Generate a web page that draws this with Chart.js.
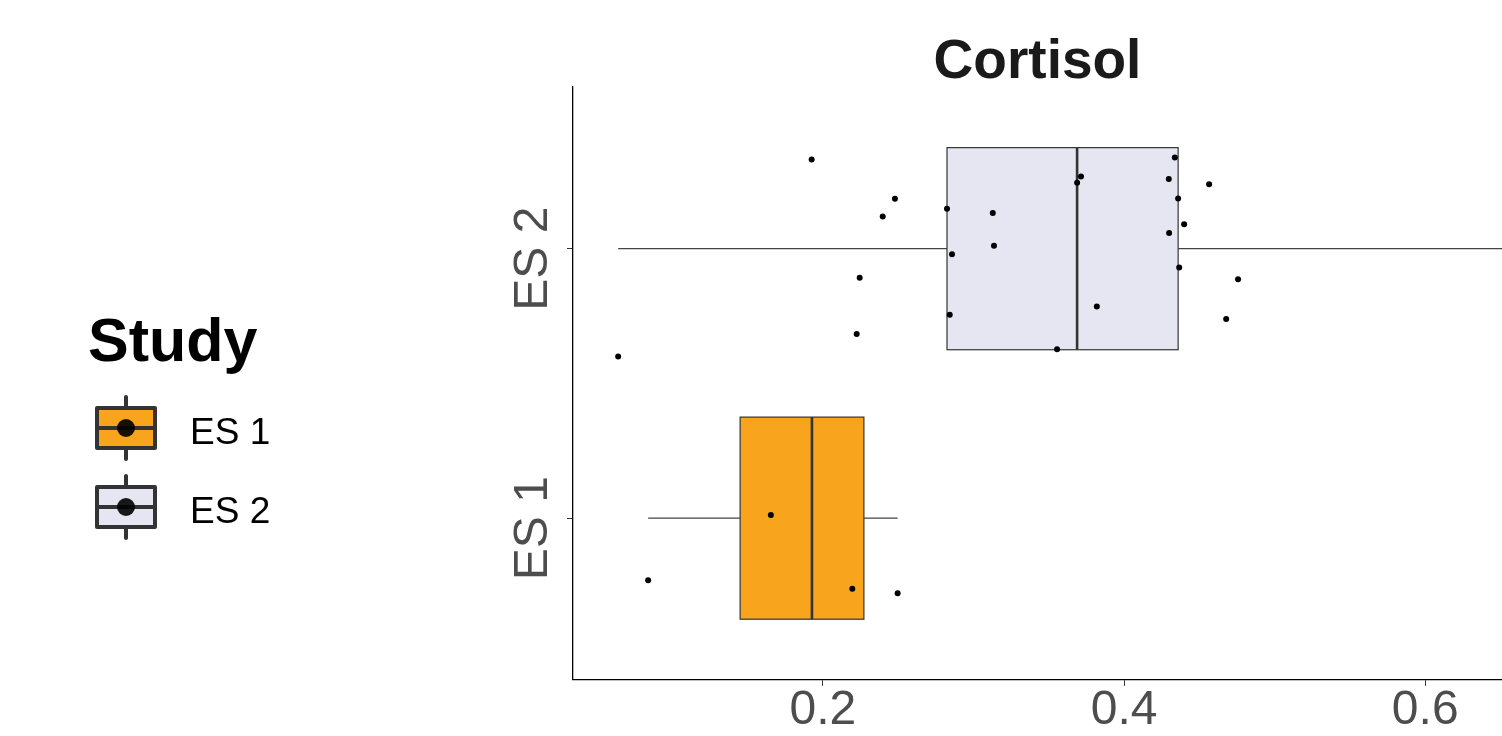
<!DOCTYPE html>
<html>
<head>
<meta charset="utf-8">
<script src="https://cdn.jsdelivr.net/npm/chart.js@4"></script>
<style>
  html, body { margin: 0; padding: 0; background: #fff; overflow: hidden; }
</style>
</head>
<body>
<canvas id="chart" width="1506" height="736"></canvas>
<script>
// study groups and their position on the y axis
const studies = ['ES 1', 'ES 2'];
const studyPos = [1, 2];
const boxColors = ['#F8A51D', '#E6E6F2'];

// box summaries
const whiskerLow = [0.0839, 0.064];
const q1 = [0.145, 0.2824];
const median = [0.1927, 0.3688];
const q3 = [0.2272, 0.4359];
const whiskerHigh = [0.2496, 0.70];

const xTicks = [0.2, 0.4, 0.6];

// jittered observations
const es1X = [0.1654, 0.0839, 0.2195, 0.2496];
const es1Y = [1.012, 0.770, 0.738, 0.721];
const es2X = [0.1925, 0.2478, 0.2397, 0.2824, 0.3128, 0.3136, 0.2857, 0.2244, 0.2224, 0.2842, 0.064, 0.3555,
              0.4337, 0.3714, 0.3688, 0.4297, 0.4565, 0.4359, 0.4399, 0.4299, 0.4366, 0.4757, 0.3819, 0.4678];
const es2Y = [2.331, 2.185, 2.119, 2.148, 2.132, 2.011, 1.979, 1.892, 1.683, 1.755, 1.600, 1.627,
              2.338, 2.268, 2.245, 2.259, 2.239, 2.186, 2.091, 2.058, 1.930, 1.887, 1.785, 1.739];

const FONT = '"Liberation Sans", Arial, Helvetica, sans-serif';
const BOX_HALF = 0.375;

function toPoints(xs, ys) {
  return xs.map((v, i) => ({ x: v, y: ys[i] }));
}

function line(ctx, x1, y1, x2, y2) {
  ctx.beginPath();
  ctx.moveTo(x1, y1);
  ctx.lineTo(x2, y2);
  ctx.stroke();
}

// boxes, whiskers and medians drawn through the chart scales
const boxPlugin = {
  id: 'boxes',
  beforeDatasetsDraw(chart) {
    const { ctx, chartArea, scales: { x, y } } = chart;
    ctx.save();
    ctx.beginPath();
    ctx.rect(chartArea.left, chartArea.top, chartArea.right - chartArea.left, chartArea.bottom - chartArea.top);
    ctx.clip();
    studies.forEach((s, i) => {
      const yc = y.getPixelForValue(studyPos[i]);
      const yt = y.getPixelForValue(studyPos[i] + BOX_HALF);
      const yb = y.getPixelForValue(studyPos[i] - BOX_HALF);
      const xl = x.getPixelForValue(q1[i]);
      const xr = x.getPixelForValue(q3[i]);
      ctx.strokeStyle = '#444';
      ctx.lineWidth = 1.2;
      line(ctx, x.getPixelForValue(whiskerLow[i]), yc, xl, yc);
      line(ctx, xr, yc, x.getPixelForValue(whiskerHigh[i]), yc);
      ctx.fillStyle = boxColors[i];
      ctx.fillRect(xl, yt, xr - xl, yb - yt);
      ctx.strokeStyle = '#333';
      ctx.lineWidth = 1.2;
      ctx.strokeRect(xl, yt, xr - xl, yb - yt);
      ctx.lineWidth = 2.6;
      const xm = x.getPixelForValue(median[i]);
      line(ctx, xm, yt, xm, yb);
    });
    ctx.restore();
  },
  afterDraw(chart) {
    const { ctx, chartArea, scales: { y } } = chart;
    ctx.save();
    // title over the panel
    ctx.fillStyle = '#1a1a1a';
    ctx.font = 'bold 55px ' + FONT;
    ctx.textAlign = 'center';
    ctx.textBaseline = 'alphabetic';
    ctx.fillText('Cortisol', (chartArea.left + chartArea.right) / 2, 78);

    // rotated y labels
    ctx.fillStyle = '#4d4d4d';
    ctx.font = '48px ' + FONT;
    studies.forEach((s, i) => {
      ctx.save();
      ctx.translate(chartArea.left - 26, y.getPixelForValue(studyPos[i]) + 10);
      ctx.rotate(-Math.PI / 2);
      ctx.textAlign = 'center';
      ctx.textBaseline = 'alphabetic';
      ctx.fillText(s, 0, 0);
      ctx.restore();
    });

    // legend
    ctx.fillStyle = '#000';
    ctx.font = 'bold 61px ' + FONT;
    ctx.textAlign = 'left';
    ctx.fillText('Study', 88, 361);
    const centers = [428, 507];
    studies.forEach((s, i) => {
      const cx = 126, cy = centers[i];
      ctx.strokeStyle = '#333';
      ctx.lineWidth = 4;
      ctx.lineCap = 'round';
      line(ctx, cx, cy - 31, cx, cy - 20);
      line(ctx, cx, cy + 20, cx, cy + 31);
      ctx.fillStyle = boxColors[i];
      ctx.lineJoin = 'round';
      ctx.fillRect(cx - 29, cy - 20, 58, 40);
      ctx.strokeRect(cx - 29, cy - 20, 58, 40);
      ctx.lineCap = 'butt';
      line(ctx, cx - 29, cy, cx + 29, cy);
      ctx.fillStyle = 'rgba(0,0,0,0.9)';
      ctx.beginPath();
      ctx.arc(cx, cy, 9, 0, Math.PI * 2);
      ctx.fill();
      ctx.fillStyle = '#000';
      ctx.font = '37px ' + FONT;
      ctx.fillText(s, 190, cy + 16);
    });
    ctx.restore();
  }
};

new Chart(document.getElementById('chart'), {
  type: 'scatter',
  data: {
    datasets: [
      { label: studies[0], data: toPoints(es1X, es1Y), backgroundColor: '#000', borderColor: '#000', pointRadius: 3, borderWidth: 0 },
      { label: studies[1], data: toPoints(es2X, es2Y), backgroundColor: '#000', borderColor: '#000', pointRadius: 3, borderWidth: 0 }
    ]
  },
  options: {
    responsive: false,
    animation: false,
    events: [],
    layout: { padding: { left: 567, top: 87, right: 0, bottom: 0 } },
    plugins: { legend: { display: false }, tooltip: { enabled: false }, title: { display: false } },
    scales: {
      x: {
        type: 'linear',
        min: 0.034,
        max: 0.651,
        afterBuildTicks: (axis) => { axis.ticks = xTicks.map(v => ({ value: v })); },
        grid: { display: true, drawOnChartArea: false, drawTicks: true, tickLength: 6, color: '#333', tickColor: '#333' },
        border: { display: true, color: '#000', width: 1.3 },
        ticks: {
          color: '#4d4d4d',
          font: { family: FONT, size: 48, lineHeight: 0.92 },
          padding: 3,
          maxRotation: 0,
          callback: (v) => v.toFixed(1)
        }
      },
      y: {
        type: 'linear',
        min: 0.4,
        max: 2.6,
        afterBuildTicks: (axis) => { axis.ticks = studyPos.map(v => ({ value: v })); },
        grid: { display: true, drawOnChartArea: false, drawTicks: true, tickLength: 6, color: '#333', tickColor: '#333' },
        border: { display: true, color: '#000', width: 1.3 },
        ticks: { display: false }
      }
    }
  },
  plugins: [boxPlugin]
});
</script>
</body>
</html>
